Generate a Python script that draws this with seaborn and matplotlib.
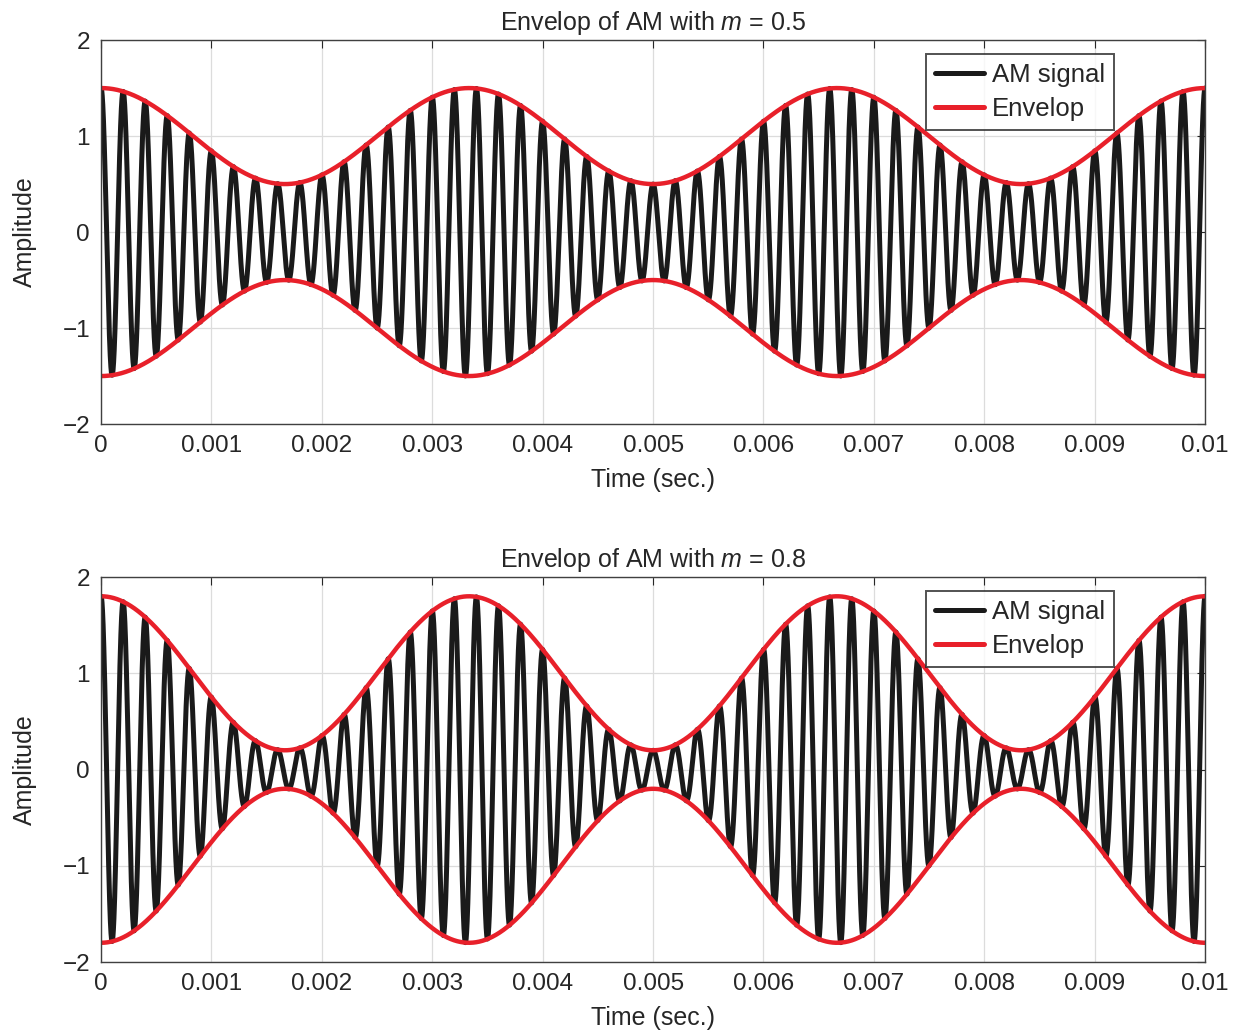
import numpy as np
import pandas as pd
import matplotlib
matplotlib.use("Agg")
import matplotlib.pyplot as plt
import seaborn as sb

# signal parameters
m_values = [0.5, 0.8]
carrier_freq = 5000      # Hz, 50 cycles in 10 ms
message_freq = 300       # Hz, envelope period ~3.33 ms
t_end = 0.01
xtick_vals = [0, 0.001, 0.002, 0.003, 0.004, 0.005, 0.006, 0.007, 0.008, 0.009, 0.01]
xtick_labels = ["0", "0.001", "0.002", "0.003", "0.004", "0.005",
                "0.006", "0.007", "0.008", "0.009", "0.01"]
ytick_vals = [-2, -1, 0, 1, 2]

sb.set_style("white")
plt.rcParams["font.family"] = ["Liberation Sans", "DejaVu Sans"]
plt.rcParams["mathtext.fontset"] = "custom"
plt.rcParams["mathtext.it"] = "Liberation Sans:italic"
plt.rcParams["mathtext.rm"] = "Liberation Sans"

t = np.linspace(0, t_end, 20001)

fig = plt.figure(figsize=(12.37, 10.33), dpi=100)
positions = [[0.0817, 0.5895, 0.8925, 0.3717], [0.0817, 0.0687, 0.8925, 0.3727]]

for m, pos in zip(m_values, positions):
    ax = fig.add_axes(pos)
    env = 1 + m * np.cos(2 * np.pi * message_freq * t)
    df = pd.DataFrame({"t": t, "am": env * np.cos(2 * np.pi * carrier_freq * t),
                       "env": env})
    sb.lineplot(data=df, x="t", y="am", ax=ax, color="#1a1a1a", lw=3.6,
                label="AM signal", estimator=None, sort=False)
    sb.lineplot(data=df, x="t", y="env", ax=ax, color="#e8202a", lw=3.2,
                label="Envelop", estimator=None, sort=False)
    sb.lineplot(data=df.assign(neg=-df["env"]), x="t", y="neg", ax=ax,
                color="#e8202a", lw=3.2, estimator=None, sort=False)

    ax.set_xlim(0, t_end)
    ax.set_ylim(-2, 2)
    ax.set_xticks(xtick_vals)
    ax.set_xticklabels(xtick_labels)
    ax.set_yticks(ytick_vals)
    ax.set_yticklabels(["\u22122", "\u22121", "0", "1", "2"])
    ax.tick_params(direction="in", length=6, labelsize=17.5, colors="#262626",
                   top=True, right=True, pad=8)
    ax.grid(True, color="#dcdcdc", lw=0.9)
    for s in ax.spines.values():
        s.set_color("#404040")
        s.set_linewidth(1.0)
    ax.set_xlabel("Time (sec.)", fontsize=18, color="#262626", labelpad=8)
    ax.set_ylabel("Amplitude", fontsize=18, color="#262626", labelpad=18)
    ax.set_title(f"Envelop of AM with $m$ = {m}", fontsize=18, color="#262626", pad=7)
    leg = ax.legend(loc="upper right", bbox_to_anchor=(0.9176, 0.9635), fontsize=18.5,
                    frameon=True, fancybox=False, handlelength=1.9,
                    borderpad=0.35, labelspacing=0.38, handletextpad=0.3,
                    borderaxespad=0)
    leg.get_frame().set_edgecolor("#262626")
    leg.get_frame().set_linewidth(1.4)
    for h in leg.get_lines():
        h.set_linewidth(3.6)

fig.savefig("out.png", dpi=100)
